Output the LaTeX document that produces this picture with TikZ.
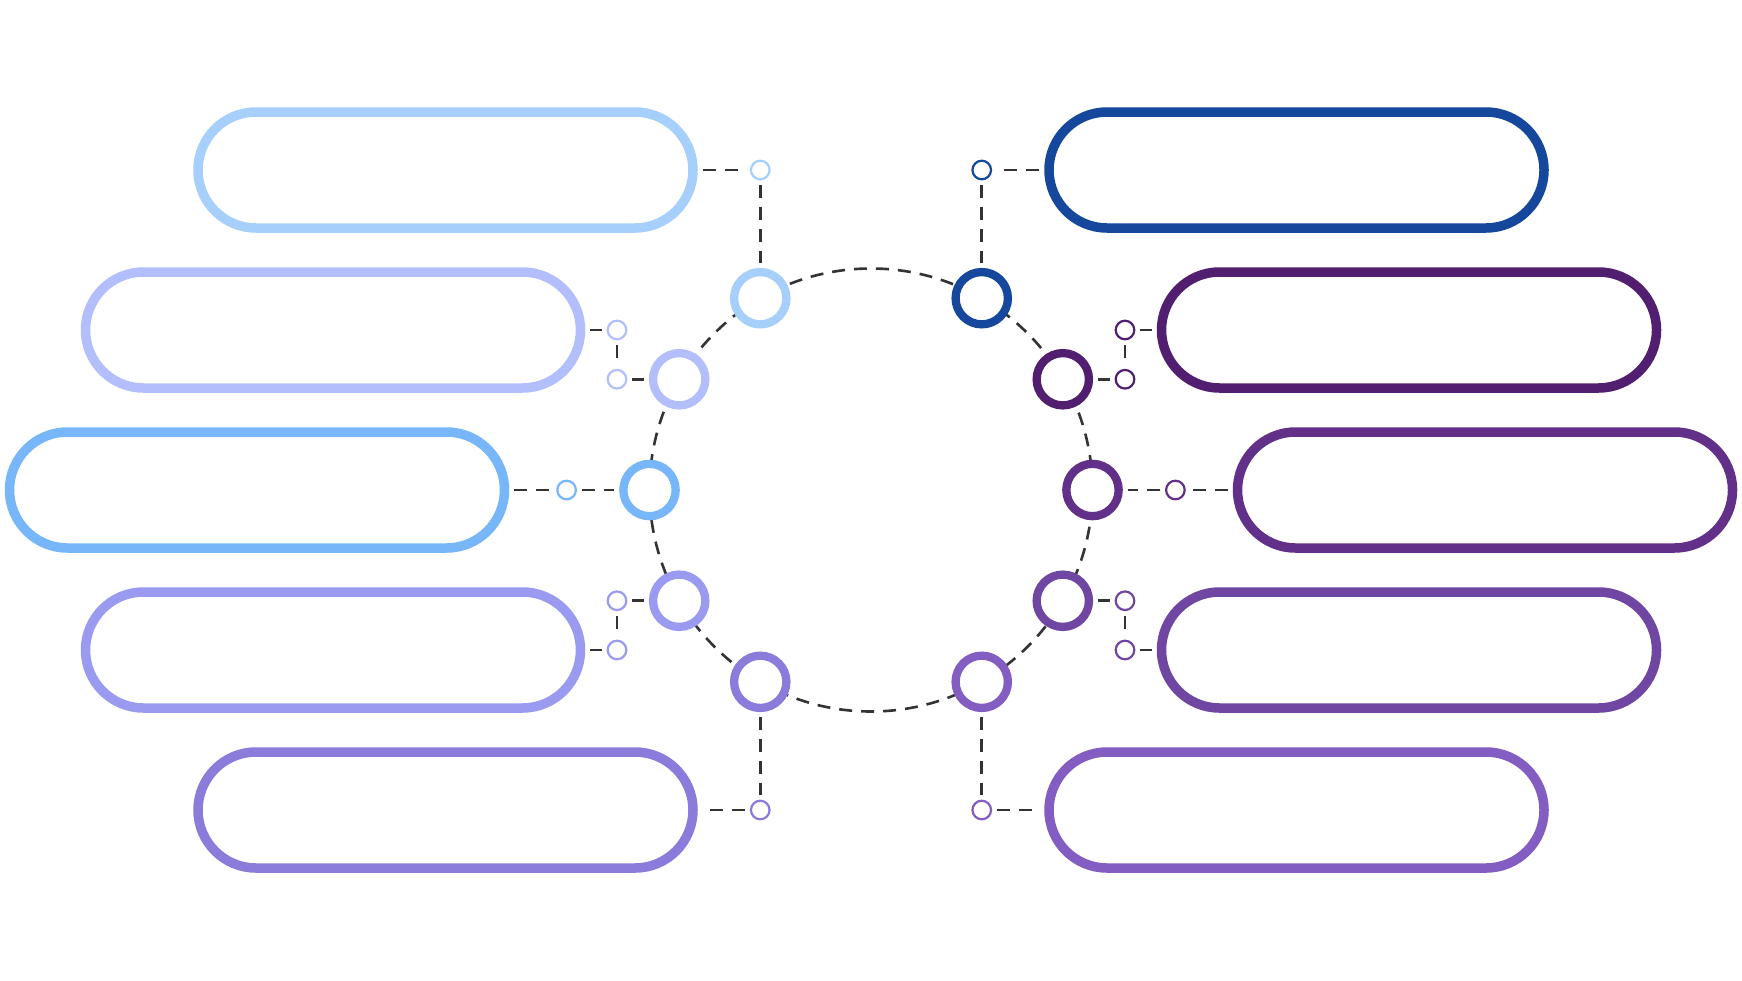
\documentclass[tikz,border=0pt]{standalone}
\definecolor{cLa}{HTML}{A6CFFB}
\definecolor{cLb}{HTML}{B3BEFD}
\definecolor{cLc}{HTML}{76B6F9}
\definecolor{cLd}{HTML}{9A9BF0}
\definecolor{cLe}{HTML}{8B7BDA}
\definecolor{cRa}{HTML}{15489C}
\definecolor{cRb}{HTML}{521F70}
\definecolor{cRc}{HTML}{633089}
\definecolor{cRd}{HTML}{7046A3}
\definecolor{cRe}{HTML}{835DC1}
\definecolor{linkgray}{HTML}{333333}
\begin{document}
\begin{tikzpicture}[x=1pt,y=-1pt,
  pill/.style={draw=#1, line width=9.5pt, rounded corners=58pt, minimum width=495pt, minimum height=116pt, inner sep=0pt, fill=white},
  big/.style={circle, draw=#1, line width=8.3pt, minimum size=52.3pt, inner sep=0pt, fill=white},
  dot/.style={circle, draw=#1, line width=2.2pt, minimum size=18.6pt, inner sep=0pt, fill=white},
  dashes/.style={draw=linkgray, line width=2.6pt, dash pattern=on 13pt off 9pt},
  link/.style={dashes, shorten <=5pt, shorten >=5pt}]
\fill[white] (0,0) rectangle (1742,980);
\useasboundingbox (0,0) rectangle (1742,980);

% dashed ring
\coordinate (c) at (871,490);
\draw[dashes] (c) circle[radius=221.5pt];

% pills
\node[pill=cLa] (pL1) at (445.5,170) {};
\node[pill=cLb] (pL2) at (333,330) {};
\node[pill=cLc] (pL3) at (257,490) {};
\node[pill=cLd] (pL4) at (333,650) {};
\node[pill=cLe] (pL5) at (445.5,810) {};
\node[pill=cRa] (pR1) at (1296.5,170) {};
\node[pill=cRb] (pR2) at (1409,330) {};
\node[pill=cRc] (pR3) at (1485,490) {};
\node[pill=cRd] (pR4) at (1409,650) {};
\node[pill=cRe] (pR5) at (1296.5,810) {};

% big ring nodes
\node[big=cLa] (bL1) at (760.25,298.2) {};
\node[big=cLb] (bL2) at (679.2,379.25) {};
\node[big=cLc] (bL3) at (649.5,490) {};
\node[big=cLd] (bL4) at (679.2,600.75) {};
\node[big=cLe] (bL5) at (760.25,681.8) {};
\node[big=cRa] (bR1) at (981.75,298.2) {};
\node[big=cRb] (bR2) at (1062.8,379.25) {};
\node[big=cRc] (bR3) at (1092.5,490) {};
\node[big=cRd] (bR4) at (1062.8,600.75) {};
\node[big=cRe] (bR5) at (981.75,681.8) {};

% small dots
\node[dot=cLa] (sL1) at (bL1 |- pL1) {};
\node[dot=cLb] (sL2a) at (617,330) {};
\node[dot=cLb] (sL2b) at (sL2a |- bL2) {};
\node[dot=cLc] (sL3) at (566.6,490) {};
\node[dot=cLd] (sL4a) at (617,600.75) {};
\node[dot=cLd] (sL4b) at (sL4a |- pL4) {};
\node[dot=cLe] (sL5) at (bL5 |- pL5) {};
\node[dot=cRa] (sR1) at (bR1 |- pR1) {};
\node[dot=cRb] (sR2a) at (1125,330) {};
\node[dot=cRb] (sR2b) at (sR2a |- bR2) {};
\node[dot=cRc] (sR3) at (1175.4,490) {};
\node[dot=cRd] (sR4a) at (1125,600.75) {};
\node[dot=cRd] (sR4b) at (sR4a |- pR4) {};
\node[dot=cRe] (sR5) at (bR5 |- pR5) {};

% links left
\draw[link] (pL1) -- (sL1);
\draw[link] (sL1) -- (bL1);
\draw[link] (pL2) -- (sL2a);
\draw[link] (sL2a) -- (sL2b);
\draw[link] (sL2b) -- (bL2);
\draw[link] (pL3) -- (sL3);
\draw[link] (sL3) -- (bL3);
\draw[link] (bL4) -- (sL4a);
\draw[link] (sL4a) -- (sL4b);
\draw[link] (sL4b) -- (pL4);
\draw[link] (bL5) -- (sL5);
\draw[link] (sL5) -- (pL5);
% links right
\draw[link] (pR1) -- (sR1);
\draw[link] (sR1) -- (bR1);
\draw[link] (pR2) -- (sR2a);
\draw[link] (sR2a) -- (sR2b);
\draw[link] (sR2b) -- (bR2);
\draw[link] (pR3) -- (sR3);
\draw[link] (sR3) -- (bR3);
\draw[link] (bR4) -- (sR4a);
\draw[link] (sR4a) -- (sR4b);
\draw[link] (sR4b) -- (pR4);
\draw[link] (bR5) -- (sR5);
\draw[link] (sR5) -- (pR5);
\end{tikzpicture}
\end{document}
